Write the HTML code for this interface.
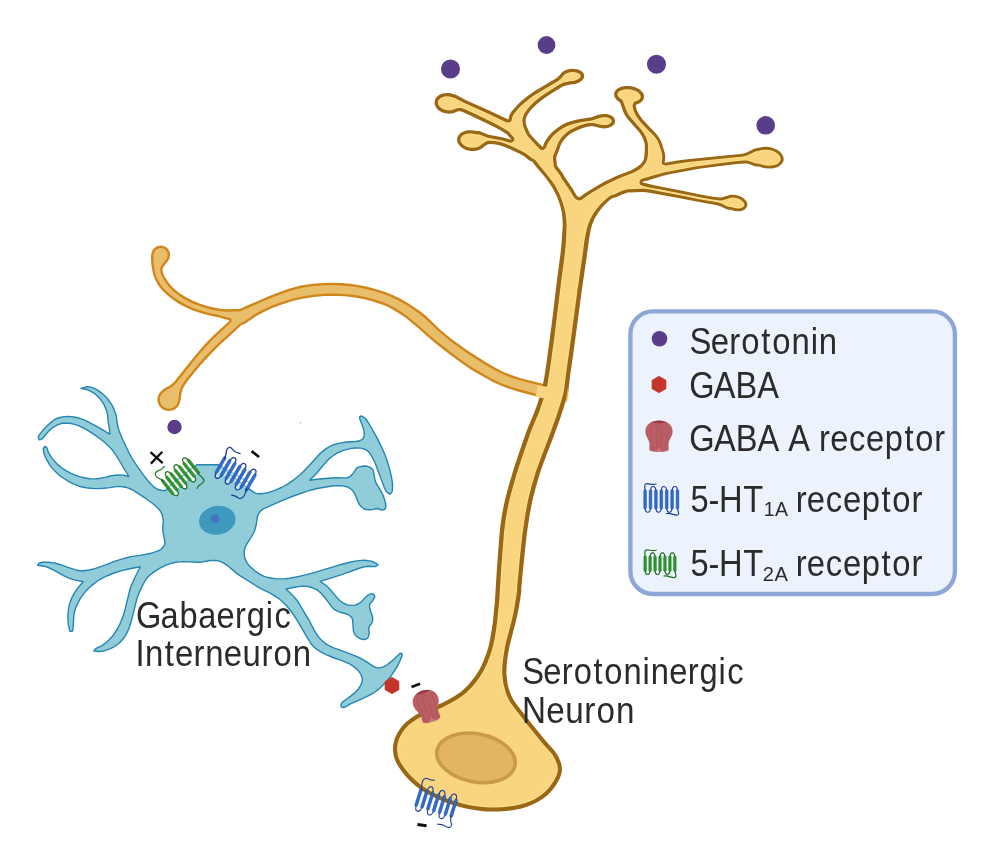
<!DOCTYPE html>
<html lang="en"><head><meta charset="utf-8"><title>Serotonin and GABA neuron diagram</title>
<style>html,body{margin:0;padding:0;background:#fff}body{width:986px;height:844px;overflow:hidden}svg{display:block}</style>
</head><body>
<svg width="986" height="844" viewBox="0 0 986 844" role="img" aria-label="Serotoninergic neuron and GABAergic interneuron diagram">
<defs><filter id="gAA" filterUnits="userSpaceOnUse" x="0" y="0" width="986" height="844" color-interpolation-filters="sRGB"><feOffset dx="0" dy="0"/></filter></defs>
<rect width="986" height="844" fill="#fff"/>
<path d="M151,256.3 151,261.7 151.6,266.3 152.9,273.6 153.8,276.5 154.7,278.7 157.4,283.9 160.2,288 163.9,292 169.1,296.7 174.4,300.7 179.4,303.9 185,306.9 192.2,310.2 198,312.3 203.8,314 209.4,315.4 219.5,317.6 225,319.3 229,320 229.3,320.5 229.2,320.9 226.8,323.2 211.6,337.2 204.6,344.6 194.4,356.5 174.2,381.7 172,383.7 169.8,385.4 164.6,388.3 163,389.5 160.8,391.5 159.3,393.2 158.3,395.2 157.6,397.4 157.5,400.7 157.9,402.9 159.3,406 160.8,407.7 162.5,409.2 165.6,410.6 168.9,411.1 172.2,410.6 175.3,409.2 177.8,406.9 179,405 180.2,401.8 181,398.1 181.4,393.7 182.7,389 184.8,385.1 188.8,379.4 201.1,364.6 212.6,352.2 219.5,345.3 233.5,332.6 241.7,324.8 243.3,324.5 244.9,323.8 256.4,315.9 261.8,312.9 272.4,308 281.1,304.7 292.7,301.1 301.3,299 313.7,297 324.6,296.1 331.4,295.9 340.4,296.1 347.6,296.5 354.6,297.4 363.2,298.9 370.3,300.7 377.5,302.9 384.6,305.4 388.7,307.3 394.3,310.4 399.9,313.9 405.6,317.8 416.9,327 429,337.8 436.6,344.2 449.8,354.5 462.1,363.6 469.3,368.4 475.5,372.2 491.1,381 496,383.5 500.7,385.6 506.8,387.9 512.9,390 517.9,391.4 547.6,399.4 549,399.5 550.4,399.4 552.3,398.7 553.4,397.9 554.4,396.9 555.2,395.8 555.7,394.5 556,393.2 556,391.8 555.5,389.8 554.8,388.6 553.9,387.5 552.9,386.7 551.7,386 519.9,377.9 511.4,375.1 505.9,373 500.4,370.4 494.5,367.3 485.5,362.1 478.4,357.6 467.9,350.7 459.8,345.1 452.5,339.7 446.6,334.9 439.5,328.9 426.1,316.1 421.4,312.3 416.5,308.7 407,302.6 399.1,298.1 392.6,294.9 384.6,291.8 375.3,288.9 367.5,286.8 358.2,285 350.5,283.8 341.1,283 331.4,282.8 323.9,282.9 314.6,283.6 307.4,284.5 300.7,285.6 295.1,286.9 288.9,288.8 278.4,292.5 269.2,296.1 245,306.5 239.9,308.9 235.1,308.9 227.9,309.3 223,309 218.8,308.5 211.3,307.1 204.8,305.3 198.2,303 191.7,300.2 185.2,296.8 179.7,293.3 175,289.6 170.8,285.4 167.6,281.2 164.5,276.2 163.2,273.3 162.6,270.2 162.6,268.7 162.8,267.8 168,261.1 169.4,258.5 169.9,256.7 170.1,254 169.4,251.3 168.5,249.7 166.7,247.6 164.3,246.2 161.6,245.5 158.9,245.7 156.3,246.6 154.1,248.2 152.4,250.5 151.9,251.7 151.3,253.7Z" fill="#d0861b"/>
<path d="M153.3,258.8 153.7,263.7 155,272.2 156,275.7 157.8,279.7 160.7,284.6 163.3,288 167.1,291.7 172.6,296.4 177,299.5 181.9,302.6 187.5,305.5 193.1,308 198.8,310 207.2,312.4 218.9,315 225.7,317 229.8,317.8 230.5,318.1 231.2,318.8 231.6,319.5 231.7,320.4 231.6,321.5 230.9,322.5 213.4,338.8 205.1,347.6 196.2,358 180.9,377.3 175.9,383.4 173.6,385.5 171.1,387.4 166.7,389.9 164.7,391.2 161.9,393.8 160.5,396.1 160,397.8 159.8,400.5 160.2,402.2 161.3,404.7 162.5,406 164.6,407.6 166.3,408.3 168.9,408.7 171.5,408.3 174,407.2 175.9,405.4 177.3,403.1 178,401 178.6,397.9 179,393.3 179.7,390.4 180.5,388.1 182.7,383.8 186.9,377.9 199.3,363 210.8,350.6 217.9,343.6 230.4,332.2 240.3,322.9 243.6,321.7 255,313.9 260.8,310.7 271.4,305.8 281.8,301.9 293.4,298.4 302.8,296.2 315.7,294.4 326.8,293.6 336,293.5 344.7,293.9 350.8,294.4 357.8,295.5 365.2,296.9 372.4,298.8 379.8,301.1 386.9,303.8 391.2,305.9 396.9,309.1 402.6,312.8 407,315.9 418.4,325.2 430.5,336 436.6,341.1 447.4,349.6 461.5,360.2 467.4,364.3 473.6,368.3 489,377.2 495.3,380.5 500,382.7 510.6,386.7 518.5,389.1 547.7,396.9 549.5,397.1 551.2,396.6 552.6,395.4 553.4,393.8 553.6,392 553.1,390.3 552.3,389.2 550.8,388.3 520.8,380.6 512,377.9 506.4,375.8 500.8,373.3 494.8,370.2 487.2,365.9 480,361.5 470.6,355.4 460.5,348.5 452.6,342.8 445.1,336.8 438,330.7 424.5,317.9 419.9,314.2 415.1,310.7 405.8,304.6 398,300.2 390.2,296.5 382.4,293.6 374.7,291.2 367,289.2 357.8,287.3 350.2,286.2 341,285.4 331.4,285.2 324,285.3 314.7,286 307.8,286.8 301.2,288 295.7,289.2 289.6,291.1 279.3,294.7 270.1,298.3 240.4,311.2 227.9,311.7 222.8,311.4 218.4,310.9 210.7,309.4 204.1,307.6 197.3,305.3 190.6,302.4 184,298.9 178.3,295.2 173.4,291.4 169,287 165.6,282.5 162.4,277.3 160.9,274 160.2,270.5 160.2,268.3 160.7,266.7 162.9,263.6 166,259.8 167.2,257.6 167.6,256.3 167.7,254.2 167.2,252.2 166.5,251 165.1,249.5 163.4,248.4 162.1,248 160.7,247.9 159.3,248 158,248.4 156.3,249.5 154.9,251 154,252.9 153.5,255.3Z" fill="#e9be6b"/>
<path d="M393,749 393.1,751.1 393.6,755 394.6,759 396.3,762.9 398.5,766.8 402.5,772.5 406.2,776.9 410.4,781.3 415.1,785.5 420,789.3 422.8,791.2 428.8,794.8 435.3,798.1 441.8,801 448.1,803.5 454.3,805.5 463.7,808 470,809.3 479.2,810.7 485.5,811.4 491.8,811.6 498.7,811.5 506.4,810.9 514.2,810 521.5,808.5 527.8,806.6 533.2,804.3 538.2,801.7 542.8,798.8 546.8,795.7 550.2,792.5 553.2,789 555.9,785.3 557.9,781.9 559.7,778.4 561.1,774.8 561.8,771.4 562,769.4 561.7,765.9 561.3,764 560,760.3 557.5,755 555,751.3 545,740 532.4,724.4 517.5,705.5 514.2,700.9 512.8,698.5 511.5,696 509.5,691 508.7,688.4 507.5,683.2 506.5,675 506.4,672 506.6,665.8 507.7,656.3 509.3,646.9 516.5,618.8 518.5,609.4 520.5,597.2 521.4,590.7 521.2,589.6 522.5,575 524.7,553.1 526.7,534.4 529.5,515.7 532.5,500 536,486.4 540,473 543.1,464.1 554.2,435 560.5,417.4 565.6,401.5 567.8,393 568.6,388.6 570.2,375 574,348.5 581.5,292.5 587.2,253 589,239.5 590.7,229.8 592.2,224.5 594.8,218.2 598.3,212.4 602.4,207.2 605.2,204.2 608.3,201.3 610.4,199.5 612.8,198 615.5,197.4 622.1,194.4 628.5,192.3 630.1,192.5 642.3,192 645.9,192.3 652.5,193.3 677.1,197.7 699.3,202.1 715.9,204.9 720.4,206.2 723.5,207.8 727.3,209.5 728.9,209.8 730.5,209.8 734.5,211 736.9,211.3 739.2,211.3 741.3,210.9 742.9,210.4 745.2,209 746.1,208.1 746.8,207.1 747.4,205.1 747.3,203.9 747.1,202.7 745.7,200.4 743.6,198.2 741.1,196.7 737.8,195.4 734.3,194.7 730.8,194.8 728.8,195.2 721.3,197.6 719.2,197.5 712.9,196.7 698.9,194.3 682.4,190.8 654,185.2 646.1,183.2 642.9,182.6 642.7,182.4 642.7,181.8 643,181.6 647.8,180.5 662.1,175.9 669.3,174.3 699.2,168.8 714.3,166.7 737,164.1 744.5,163.4 746.7,163.4 748.8,164 754.9,166.3 756.7,166.6 759.2,166.5 761.9,167.5 765,168.3 769.8,168.6 772.1,168.5 774.4,168.1 777.8,166.9 780.6,165.1 782.5,163 783.2,161.6 783.6,160.5 783.7,158.9 783.5,157.4 782.4,154.7 780.4,152.2 777.7,150.1 774.2,148.4 770.4,147.3 766.4,146.8 762.5,146.9 760.2,147.4 757.6,148.1 754.7,148.6 746.1,152.7 743.7,153.4 740.9,153.9 724.7,155.4 687.6,159.3 677.4,160.6 664.8,162.7 664.6,162.3 665.1,159.6 665.2,157.5 665.2,155.6 664.7,152.8 662.3,144.8 661.4,142.2 659.9,139.1 657.7,135.7 655.7,133.3 649.7,127.1 642.2,119 638.6,113.7 637.4,111.2 636.4,108.7 635.9,106.4 635.8,104.7 638.7,103.7 640.8,102.5 642.4,101 643.5,99.3 644,98 644.1,96.3 643.8,94.8 643.2,93.3 641.5,91.2 639.6,89.6 637.3,88.2 634.7,87.1 631.2,86.2 628.2,85.9 625.3,85.9 622.5,86.4 620.6,86.9 618.4,87.9 616.9,88.9 615.8,90 614.9,91.2 614.2,92.9 614.1,94.4 614.4,96.2 615,97.7 616.3,99.4 618,101 620,102.4 621.4,106.6 623.4,112.1 624.8,114.9 626.1,117 628.4,120.1 639.3,132.3 641.1,135 643.1,139 644.5,143.1 644.9,146.2 644.6,154.3 644.1,157.7 643.6,159.7 642,162.4 640.3,164.4 638.2,166.1 635.7,167.7 630.8,170.4 617.4,175.4 604.2,181.8 598.1,185.2 589.4,190.4 585,193.3 579.5,197.3 577.7,196.6 576.5,195.3 572.6,188.5 564.1,176.3 563.6,174.8 562.9,173.5 557,165.8 556.3,159.3 556.3,156.9 558.5,151.6 560.9,144.7 562.4,142 564.3,139.4 566.3,137.2 569,134.8 571.5,133 574.3,131.5 582.1,128.2 586.9,126.8 591.1,126.2 593.1,126.2 599.3,127.8 604.1,128.4 607.6,128.1 610.8,127 612.3,126 613.4,125.1 614.3,123.9 614.8,122.8 615.1,121.5 615,120.3 614.7,119 614.1,117.9 613.1,116.8 612.1,116 609.5,114.7 606.2,113.9 603.1,113.9 598.6,114.7 591.4,117.3 581.3,118.7 576.1,119.8 570.8,121.2 566.7,122.6 562.8,124.5 558.4,127.2 554.3,130.3 551.1,133.3 548.3,136.6 545.8,140.1 544.2,142.9 542.8,146.9 542.5,147.1 536.2,140.7 529.9,133.8 526.4,125.7 525.9,123.1 525.7,120.3 526,118.1 527.1,115.5 528.6,113.1 531.1,109.8 533.3,107.4 536.7,104.2 540.9,100.8 544.6,98 551.3,93.5 562.8,86.4 566,85.4 570.4,84.4 573.1,84.3 576.1,83.7 579.2,82.5 581.7,80.7 582.8,79.6 583.6,78.2 584.1,77 584.2,75.8 583.9,74.4 583.4,73.3 582.4,72 581.3,71.1 579.1,69.9 577.1,69.2 574.8,68.9 572.3,68.8 569.9,69 567.5,69.5 565.4,70.3 563,71.5 561.2,73.2 559.9,75 556.7,78 534.3,91.3 528,95.7 522.3,100.2 517.6,104.7 511.5,111.5 509.6,114.8 509,116.7 508.6,119.3 508.3,119.6 489.1,110.4 466.1,100.2 456.8,95.2 455.1,94.5 449.4,93.1 446.8,92.9 444.2,93.2 441.7,93.8 439.1,95 437.2,96.5 435.9,98.1 435,99.9 434.6,101.9 434.6,103.5 435.1,105.5 436.1,107.4 437.5,109.2 438.9,110.4 441,111.7 443.3,112.7 445.2,113.3 449.2,113.7 453.1,113.2 458.1,111.3 460.1,111.2 461.6,111.6 471.5,116 494.4,127.1 501.2,130.7 507,134.4 508.1,136 511.2,139.2 511.2,139.7 510.9,139.7 506.1,138.2 502.1,137.2 488.6,134.7 479.4,131.1 477.6,131 476.2,131 473.7,130.4 471.6,130.2 468,130.2 465.4,130.7 463.5,131.4 461.4,132.5 459.9,133.6 458.5,135.2 457.7,136.7 457.1,138.6 457.1,140.6 457.5,142.2 458.4,144.1 459.5,145.6 461.3,147.3 463.5,148.7 465.9,149.9 468,150.5 470.7,151 475,151 478.9,150.1 481.6,148.7 485.4,145.7 487.4,144.6 488.4,144.2 490.4,144 493.8,144.3 497.4,144.8 501.1,145.7 506.7,147.8 514.9,151.4 520.8,154.3 524.1,156.2 529.4,160.4 530.6,161 532.1,161.5 536.6,167.2 544.1,176.1 548.8,182.2 552.6,188.1 556.6,195.7 557.9,198.8 559.5,203.4 560.8,208 561.8,212.6 562.6,220.3 562.7,224.8 562.5,229.3 561.5,243.8 560.6,253 557,280 552,322 546.9,360.3 544.4,377.1 542.8,385.3 540.1,395.6 536.9,405.5 533.9,413.5 528.1,427.3 526.1,432.5 521.7,444.9 514.3,467.1 509.5,483 506.7,493.2 504.3,503.1 502.4,512.5 500.5,525 499.5,534.4 496.9,568.7 495,600 492.9,621.9 491.5,631.3 489.8,640.8 488.4,647 486.6,652.9 484.5,658.6 482.2,664.1 479.5,669.4 478,672 474.7,676.9 471.1,681.6 467.2,686 463,690 460.7,691.9 455.9,695.2 450.9,698.3 443,702.5 437.3,705.1 425.5,709.8 420,712.5 415.3,715.3 410.8,718.2 406.7,721.4 404.7,723.2 403,725 400.1,728.7 397.5,732.7 395.5,736.8 394.6,739 393.6,742.9 393.2,745Z" fill="#9a6715"/>
<path d="M560.4,196.2 562.1,200.7 564,206.7 565.1,211.3 565.9,216 566.4,220.6 566.6,225.4 566.1,239.1 565.4,248.2 564.4,257.2 561.2,281 554.7,334.6 550.4,365.9 547.5,383.9 545.8,391.4 544.1,397.4 539.2,411.8 532.2,428.6 530.1,434 520.4,462.3 516.8,473.6 512.6,487.9 509.9,497.9 508,506.5 505.6,519.6 504,532.7 501.3,567 499.3,600 497.1,622.6 495.8,631.6 494.5,639.2 493.2,645.2 491.6,651.2 489.6,657.1 487.3,662.9 483.2,671.4 479.9,676.8 477.1,680.7 474.2,684.4 470,689.1 466.5,692.4 462.8,695.4 458.9,698.2 453.5,701.5 445.5,705.8 441.2,707.9 424.7,714.7 417.2,718.9 411.4,722.9 409.2,724.6 406.3,727.4 404.6,729.5 402.2,732.8 400.2,736.4 399.1,738.8 397.9,742.5 397.4,745 397.1,749 397.6,754.2 398.6,757.9 400.8,762.7 404.7,768.5 409.1,774.1 415.2,780.1 420.7,784.7 427.8,789.5 434.1,792.9 440.7,796 448.8,799.3 455.6,801.6 464.1,803.9 471.2,805.4 479.9,806.7 485.7,807.3 492.8,807.5 501.6,807.2 508.8,806.5 514.5,805.7 520.2,804.6 525.5,803 530.8,800.9 535.8,798.4 540.5,795.4 543.8,792.9 547.8,789.1 551.2,784.8 554.2,780.2 556.6,775.3 557.6,771.7 557.9,768.3 557.2,764.6 555.3,759.7 552.7,755 550.2,751.9 542.1,742.9 526.9,724.2 513,706.3 510.2,702.3 508.6,699.4 506.6,694.9 505.5,691.8 503.5,684.1 502.8,679.4 502.3,674.6 502.2,671.4 502.3,666.7 503.1,658.9 505,646.8 506.4,640.7 509.9,627.7 512.4,617.6 514.2,609 516.3,595.8 517.1,590.4 517,588.6 519.8,558.7 522.5,533.3 525.2,515.3 526.8,506.3 528.3,498.9 531.7,485.6 536.1,471 539.2,462.4 550.3,432.9 556.4,416.1 561.4,400.6 563.6,392.2 564.3,388 565.9,374.7 569.7,347.9 577.3,291.4 582.9,252.8 584.6,239.4 585.8,233.4 587.2,227.3 588.2,224.2 590,219.7 593,214 596.7,208.7 600.8,203.9 606.6,198.4 609.1,196.4 611.1,195.2 614.1,194.4 622.2,190.8 627.4,189.2 641.2,188.7 644.5,188.8 650.6,189.6 660,191.6 680.1,195.3 699.2,199.2 717.1,202.2 721.8,203.6 724.7,205.2 728.3,206.8 731,206.9 735.3,208.2 739,208.4 741.3,207.9 743.1,207 743.8,206.4 744.4,205.1 744.3,203.6 743.3,201.9 741.6,200.4 739.5,199.1 737.2,198.2 733.4,197.6 731,197.7 722.8,200.2 720.3,200.5 714.1,199.8 703.7,198.1 659.8,189.3 650.4,187.7 643.4,186 641.1,185.2 640.1,184.4 639.5,183 639.5,181.4 640.2,180 642.4,178.4 645.7,177.7 651.2,175.9 663,172.7 669.1,171.4 695.7,166.4 719.6,163.2 737.5,161.1 745.3,160.5 746.9,160.5 748.9,161 756,163.5 760.2,163.9 763.3,164.9 765.9,165.5 768.5,165.7 771.2,165.6 774.9,164.9 777.2,163.9 778.2,163.3 779,162.6 780.3,161 780.6,160.2 780.7,158.4 780.1,156.5 778.8,154.7 777,153.2 774.8,151.8 772.4,150.8 769.9,150.1 767.3,149.8 764.6,149.7 762,149.9 755.3,151.5 747,155.4 743.9,156.3 740.8,156.8 725.7,158.2 688.4,162.1 678.1,163.5 666.4,165.4 665.3,165.4 663.4,165 662.2,164 661.7,162.8 662.3,157.8 662.2,155.3 661.7,152.6 659.6,145.7 657.5,140.8 656.1,138.6 653.6,135.5 648,130.1 641.8,123.6 639.6,121 636.9,117.2 635.3,114.4 633.3,109.7 632.5,105.6 633.3,103 634.3,101.8 637.6,100.5 638.6,100 640,98.7 640.5,98 640.8,96.7 640.4,95.2 639.9,94.4 638.4,92.8 636.5,91.5 634.2,90.4 631.8,89.7 629.2,89.3 626.6,89.2 624.1,89.4 620.7,90.4 618.9,91.6 617.8,92.9 617.4,94.2 617.5,95 618.2,96.5 618.9,97.3 620.6,98.8 622,99.7 622.8,100.7 626,109.6 627.1,112.1 628.3,114.4 631.7,118.8 641.8,130.2 644.4,134.3 646,137.3 647.6,141.9 648.1,145.6 648,153.6 647.4,158.3 646.8,160.5 646,162.4 645.2,163.6 642.8,166.6 640.1,168.9 634.8,172.1 631.6,173.6 619.1,178.3 607.1,184 600.7,187.5 591.7,192.8 586.9,196 581.8,199.8 580.6,200.2 579.3,200.4 578,200.3 575.5,199.1 573.7,197 570,190.7 561.4,178.2 560.2,175.5 555,168.7 553.8,166.3 553,159.5 553,157.4 553.2,155.8 555.7,149.8 557.7,143.8 558.5,142.2 560.2,139.3 562.2,136.8 564.4,134.4 566.9,132.2 569.6,130.3 574.1,127.9 578.4,126.1 582.8,124.5 586,123.6 589.4,123 593.3,122.9 600.4,124.7 604.4,125.1 606.8,124.9 608.9,124.2 609.8,123.8 611.2,122.6 611.7,121.4 611.6,120.3 611.2,119.7 609.9,118.5 607.9,117.6 605.7,117.2 603.3,117.2 599.4,117.9 592,120.5 581.7,122 576.1,123.2 570.6,124.8 566.7,126.3 563,128.2 559.5,130.5 557.3,132.2 554.1,134.9 551.4,138 548.9,141.4 547.5,143.6 546.1,147.4 545.5,148.4 543.8,149.7 542.2,150.2 541,150 539.9,149.3 533.5,142.6 527.2,135.6 524.4,129.6 523.3,126.5 522.6,123 522.4,120.9 522.5,118.8 523,116.9 524.2,113.9 526.1,110.9 528.1,108.2 530.3,105.8 533.6,102.6 537.1,99.5 540.9,96.6 547.2,92.3 559.9,84.2 561.5,83.4 563.5,82.6 566.6,81.9 569.5,81.3 572.8,81 575.2,80.5 578.5,79.1 580,77.8 580.8,76.5 580.7,75.4 580.5,74.9 579.2,73.7 577.3,72.8 573.8,72.1 570.1,72.3 566.6,73.3 564.6,74.5 563.9,75.1 562.1,77.5 559.8,79.7 558.2,81 540,91.7 533.8,95.6 529.1,99 524.6,102.7 521.4,105.6 518.4,108.6 514.6,112.9 513.2,114.9 512.3,117.1 511.8,119.9 511.3,121 510.3,121.9 509.1,122.3 507.4,122.6 506.1,122.3 488.5,113.8 463.9,102.8 454.8,97.9 449.6,96.5 446,96.3 443.7,96.7 441.5,97.5 439.7,98.7 439.1,99.4 438.5,100.2 437.9,101.8 438,103.6 438.3,104.5 439.3,106.2 440.1,107 440.9,107.8 442.9,109 445.1,109.8 448.7,110.4 452.3,110 456.1,108.5 458.8,107.9 461,108 464.4,109.1 479.5,116.1 495.8,124.1 502.5,127.7 507.8,130.9 509.5,132.3 510.6,133.8 513.8,137.2 514.4,138.4 514.4,139.7 514.2,140.3 513.5,141.4 511.6,142.6 510,142.8 502.4,140.6 487.7,137.8 479.2,134.5 475.5,134.2 472.3,133.5 468.6,133.5 465.1,134.3 463.1,135.3 461.5,136.7 460.6,138.2 460.4,139.9 460.8,141.7 462,143.4 463.6,144.9 465.7,146.2 469.2,147.4 472.9,147.8 475.3,147.6 477.7,147 479.7,146 483.2,143.3 486.6,141.3 488.8,140.8 493.9,140.9 500.1,142 504.9,143.5 514.7,147.7 522.9,151.7 526,153.5 531.5,157.8 534.2,159.2 535.2,160 539.7,165.8 546.5,173.9 552.1,181.2 554.7,185.1 557,189.2Z" fill="#fddf8c"/>
<path d="M441.6,708.9 427.7,714.5 422.7,716.9 414.3,722.2 409,726.4 407.1,728.2 404.6,731.2 403.1,733.4 401.2,736.9 399.3,741.6 398.7,744 398.3,746.4 398.2,749 398.3,751.5 398.7,754 399.2,756.4 400.1,758.7 401.1,761 404.7,766.7 409.9,773.3 415.9,779.3 422.5,784.7 428.3,788.5 437.2,793.2 446.5,797.3 454.6,800.2 462.9,802.5 472.9,804.5 482.9,805.9 491.4,806.4 501.5,806.1 510.1,805.3 515.8,804.4 519.9,803.5 526.5,801.5 532.8,798.7 536.5,796.7 539.9,794.5 544.1,791.2 546,789.3 548.7,786.3 550.4,784.2 552.6,780.8 555.5,774.9 556.3,772.6 556.7,770.4 556.8,768.3 556.4,766.1 555.8,763.8 554.8,761.4 553.1,757.8 551.1,754.7 541.3,743.7 528.9,728.4 513,708.2 510.3,704.4 508.4,701.3 506.8,698.3 505,693.8 503.5,689.1 502.4,684.3 501.7,679.6 501.2,674.7 501.1,671.4 501.2,666.6 502,658.7 503.9,646.6 505.3,640.5 508.8,627.4 511.3,617.4 513.1,608.8 515.2,595.6 516,590.4 515.9,588.5 518.7,558.6 521.5,533.2 524.1,515.1 525.7,506.1 527.3,498.6 530.7,485.3 535.1,470.7 538.1,462 549.3,432.5 555.4,415.7 560.4,400.3 562.5,392 563.2,387.9 564.8,374.5 568.6,347.8 576.2,291.3 581.8,252.7 583.5,239.3 585.4,230.2 587.1,223.9 589,219.3 591.2,214.9 593,212 595.8,208.1 598.9,204.4 603.4,199.7 607.1,196.6 610,194.6 611.1,194.1 613.7,193.3 620.5,190.3 626.7,188.2 641.1,187.6 647.3,188.1 642.5,186.9 640.7,186.2 639.6,185.4 638.7,184.1 638.4,183.2 638.3,182 638.8,180.2 639.8,178.9 642,177.4 645.5,176.6 651,174.9 664.3,171.2 692.5,165.9 712,163 737.4,160 745,159.4 747,159.5 749.5,160 756.2,162.5 760.4,162.8 764.8,164.2 768.6,164.6 772.3,164.4 774.6,163.8 776.7,163 778.3,161.8 778.9,161.2 779.6,159.9 779.7,158.6 779.5,157.8 778.7,156.3 777.2,154.7 775.4,153.4 773.2,152.3 769.7,151.2 765.9,150.8 763.4,150.9 755.6,152.5 747.4,156.5 744.2,157.3 740.9,157.9 725.8,159.3 688.5,163.2 678.3,164.5 666.5,166.5 665.1,166.5 663.1,166 661.6,165 660.7,163.3 660.6,162.1 661.2,157.8 660.9,154.2 658.6,146.1 656.5,141.3 655.2,139.2 652.8,136.2 647.2,130.9 641,124.3 638.7,121.7 636,117.8 634.3,114.9 632.3,110.1 631.7,107.9 631.4,105.6 631.6,104.3 632.3,102.4 633,101.5 634.1,100.7 637.1,99.5 638.7,98.5 639.2,98 639.6,97.1 639.4,95.7 638.4,94.3 636.9,93 634.9,91.9 632.7,91.1 630.3,90.5 627.9,90.3 625.5,90.3 623.2,90.7 621.1,91.4 620.3,91.9 619.1,92.9 618.5,94.2 618.8,95.3 620.4,97.3 622.6,98.8 623.6,99.8 624.1,100.9 627.5,110.5 629.3,113.8 632.5,118.1 642.7,129.6 645.5,133.9 647,136.8 648.2,139.9 649.1,143.9 649.2,148.9 649.1,153.5 648.8,156.8 647.8,160.9 647,162.8 646.1,164.2 643.8,167.1 640.9,169.6 637.9,171.5 635.1,173.2 632.2,174.5 620.8,178.8 607.6,185 601.2,188.5 592.3,193.8 587.5,196.9 582.4,200.8 580.9,201.3 578.5,201.5 577,201.1 575,200.1 573.1,198.1 569.1,191.3 560.5,178.8 559.3,176 553.7,168.7 553,167.2 552.6,165.8 552,159.8 551.9,157.3 552.3,155 554.2,150.6 556.5,143.7 557.3,142 560.2,137.5 563.6,133.7 567.8,130.2 572.2,127.6 575.1,126.3 580.9,124 587,122.3 579.1,123.6 572.2,125.4 567.2,127.3 562.4,129.8 560.1,131.4 556.9,133.9 554.9,135.7 552.2,138.7 549.1,143.1 548,145.2 546.9,148.3 546.2,149.3 544,150.9 543.1,151.2 541.9,151.3 540.2,150.9 539.1,150.1 532.7,143.3 526.3,136.3 523.4,130 522.2,126.8 521.5,123.2 521.3,120.9 521.4,118.7 521.9,116.5 523.3,113.4 525.2,110.3 527.3,107.5 530.5,104 537.7,97.7 541.5,94.8 547.8,90.5 559.4,83.3 561,82.4 564.9,81.1 569.4,80.2 573.8,79.7 577,78.7 578.6,77.6 579.7,76.2 579.5,75.5 578.6,74.6 575.9,73.5 573.7,73.2 570.3,73.4 567,74.3 564.6,75.9 562.9,78.3 560.6,80.5 558.8,81.9 540.6,92.6 533.3,97.4 528.6,100.8 525.3,103.5 522.2,106.3 519.2,109.4 515.4,113.6 514.2,115.5 513.4,117.4 512.7,120.6 512.2,121.7 510.9,122.8 509.3,123.4 507.3,123.7 505.6,123.3 488.1,114.8 463.4,103.8 454.4,98.9 449.4,97.6 447.2,97.3 445,97.5 442,98.4 440.5,99.5 439.5,100.7 439.2,101.3 439,102.7 439.3,104.1 439.7,104.8 441.6,106.9 443.4,108 445.4,108.8 448.8,109.3 452,108.9 455.7,107.4 458.1,106.9 460.5,106.9 463.4,107.5 474.6,112.5 497.6,123.8 505.7,128.3 508.3,130 510.3,131.5 511.4,133.1 514.3,136 515.1,137.2 515.5,139 515.2,140.7 514.1,142.3 512.7,143.3 511.5,143.8 509.5,143.9 506.4,142.9 516.5,147.3 523.6,150.8 526.7,152.6 532,156.8 533.6,157.5 535.4,158.7 549.3,175.6 553,180.5 555.6,184.6 558.7,190.1 561.4,195.7 563.2,200.3 565.1,206.4 566.2,211.1 567,215.9 567.6,222.2 567.7,227 567.1,240.7 565.5,257.3 562.3,281.1 557.9,318.4 553.8,349.7 550.1,375 548.3,385.6 546,394.8 542.8,405 539.6,413.7 533.2,429 531.1,434.4 526.7,447 519.2,469.7 514.9,483.9 511.7,495.3 509.7,503.9 507.7,514 505.9,525.6 504.8,535.8 502.2,570.1 500.6,597.1 498.9,616.7 497.8,625.9 496.4,634.8 495,642.4 493.5,648.5 491.7,654.5 489.5,660.4 485.7,669.1 482.6,674.7 479.9,678.8 477.1,682.6 473,687.5 469.6,691 466.1,694.2 462.2,697.3 458.2,700 452.7,703.2 445.9,706.8ZM491.5,139.7 487,138.8 478.9,135.6 475.3,135.3 472.2,134.6 469.8,134.5 466.5,135 463.7,136.2 463,136.8 461.9,138 461.7,138.6 461.5,139.8 461.9,141.2 462.8,142.7 465.2,144.6 468.3,146 470.5,146.5 472.9,146.7 476.3,146.3 478.3,145.6 480,144.5 483.8,141.5 486.1,140.3 488.7,139.7ZM590.8,121.8 593.5,121.9 600.5,123.6 603.4,123.9 605.5,124 607.5,123.6 609.2,122.8 610.3,121.9 610.6,121 609.9,119.9 608.5,119 606.6,118.4 604.5,118.2 599.6,119 592.9,121.4ZM659.6,190.4 659.6,190.4 659.6,190.4ZM659.7,190.4 660.3,190.5 663.3,191.1 662.2,190.9ZM718.3,201.4 722.2,202.6 725.2,204.2 728.6,205.7 731.2,205.9 735.5,207.1 738.9,207.3 740.9,206.8 742.5,206.1 742.9,205.7 743.3,204.9 743.2,204 742.9,203.3 741.8,201.9 741,201.3 738,199.7 734.6,198.8 732.3,198.7 730.1,199 722.5,201.4 720.3,201.6Z" fill="#fad57f"/>
<rect x="566.6" y="388.5" width="1.6" height="13" fill="#f2b13c" opacity="0.85" transform="rotate(8 567 395)"/>
<rect x="536.5" y="386" width="11.5" height="12" fill="#fad57f" transform="rotate(12 542 391.5)"/>
<ellipse cx="476" cy="757.9" rx="39.7" ry="24.1" fill="#e4b561" stroke="#c99a47" stroke-width="3.6" transform="rotate(11 476 757.9)"/>
<path d="M196.9,464.8 164.8,490.9 158.8,489.8 157.7,489.3 155.3,487.9 152.9,486 150.6,483.8 147.9,480.7 145.2,477.3 137.8,467.2 134.8,462.7 131.8,457.9 129,452.8 123.1,440.6 119.5,432 118.2,427.9 117.3,424 116.4,416.8 115.7,414 113.6,408.3 112.3,405.6 110.7,403.1 108.1,399.5 106.2,397.3 103.1,394.3 99.7,391.6 97.2,389.9 94.7,388.5 92.3,387.6 89.8,386.9 87.4,386.7 86.3,386.8 81,388.3 87.4,389.8 90.5,391.1 93.5,392.8 95.6,394.4 98.7,397.3 101.4,400.6 103.1,403 104.5,405.6 105.7,408.4 106.8,411.3 107.5,414.2 108.1,421.5 109.4,428.8 110,434.3 104.5,430.8 98.5,427.3 85.4,420.4 80.5,418.6 75.6,417.3 70.7,416.6 67.4,416.4 64.2,416.6 59.8,417.5 56.9,418.5 54.3,419.8 50.6,422.6 47.2,425.7 44.1,429 39.8,434.1 38.6,436 38.3,436.8 38.4,437.8 39.2,439.8 41.2,439.4 42.3,438.7 45.9,434.3 49.8,430.1 52,428.2 54.3,426.6 58,424.7 60.5,423.8 62.9,423.3 66.6,423.1 69.4,423.3 72.3,423.8 75.2,424.6 78.4,425.7 81.7,427.2 86.6,429.7 94.7,434.9 99.7,438.5 104.5,442.3 109,446.4 113,450.8 115.2,454 128.9,476.5 122.9,475.1 120.2,474.9 117.4,475 111.4,475.8 104.9,477.4 100,478.3 96.8,478.7 93.5,478.9 90.2,478.7 85.3,478 82.1,477.3 77.2,475.8 71,473.3 66.8,471.2 62.8,468.7 58.1,464.9 54.8,461.6 52,458.1 49.9,455 48.3,452 46.9,447.7 46.3,447 44.9,446.5 43.8,447.7 43.4,448.4 43.4,450.6 44.3,454.5 46.5,459.4 49.3,464.3 52,467.9 55.3,471.6 59.3,475.2 63.1,478 69.4,481.9 73.2,483.9 78.4,485.9 82,487 86.2,487.8 90.6,488.3 95,488.6 99.4,488.5 103.7,488.2 110,487.6 116.1,486.6 120,486.4 125.1,487.2 128.4,488.2 131.6,489.5 134.6,491.2 146.8,499.2 152.3,503.2 155.9,506.3 159.7,510.2 161.2,512.4 162.2,514.8 163,518.7 163.3,521.5 162.7,529.1 163.1,532.2 164.8,541.4 164.9,543.4 164.3,545.3 163.7,546.3 162.2,548.1 160.4,549.7 159.3,550.4 156.9,551.4 151.2,553.2 147.7,554 140.1,555.4 131.1,556.6 126.6,557.7 115.2,561.2 105,565.1 94.9,568.6 89.1,570 83.7,570.8 80.2,570.8 76.6,570.2 67.8,567.4 60.7,564.7 55.4,563.3 51.8,562.6 48.3,562.3 43.1,562.3 40.1,562.8 39.1,563.2 38.4,563.8 37.6,565.3 43.9,566.2 48.2,567.5 54.3,570.3 63.5,575.6 69.5,578.3 74.3,579.9 83.2,581.7 78,587.7 74.6,592.6 71.8,597.8 69.7,603.5 68.4,609.6 68,613.7 67.9,617.4 68.3,624.3 69.9,631.2 72,631.4 72.3,631.2 72.7,630.6 73.1,628.4 73.8,615.5 74.5,611.9 75.6,608.3 77.1,604.7 78.8,601.2 81,597.6 83.4,594.1 86.3,590.6 91.6,585.6 97.5,581 102,578.4 106.7,576 114,573 121.7,570.6 129.6,568.7 140.3,566.8 135,577.2 131.1,586 129.8,589.8 125.4,608.2 123.7,614.2 120.7,622.3 117.6,628.5 113.6,634.7 112.2,636.5 109.3,639.6 106.2,642.5 103,644.9 101.5,645.8 95.6,648.7 94.5,649.7 93.9,651 98.9,651.5 101.5,651.4 105,650.7 110.5,648.7 113.8,647 118.5,643.7 121.3,641.1 123.6,638.3 125.6,635.2 127.4,631.9 129.5,626.7 131.8,619.3 136.6,599.9 138,595.4 139.7,591.4 143.3,584 146.3,578.9 149.1,575.8 152.9,572.7 159.5,568.4 165,565.6 170.2,563.6 175.6,562.3 179.6,561.9 183.7,561.8 189.8,561.9 196,562.3 200,562.3 201.8,562.1 208.9,560.7 210.6,560.5 215.3,560.5 218.4,560.9 221.1,561.8 223.7,563.1 228.9,566.7 234.9,571.9 239.9,575.6 259.3,587.8 269.6,592.9 273.1,594.9 277.7,597.8 282,601.2 287,606.2 292.2,612.8 296.9,619.8 304.9,633.7 310.5,643 312.8,645.9 315.6,648.4 320.3,651.7 325.4,654.4 334.4,658 341.5,660.4 349.5,663.9 352.4,665.6 354.9,667.4 358.3,670.6 359.9,672.8 361.2,675.1 362.1,677.4 362.3,678.6 362.3,679.7 362,682 360.7,685.4 358.4,689 354.2,693.4 347.8,698.3 342.4,702.1 341.4,703.5 341,706.4 342.4,707.3 343.2,707.5 344.2,707.3 345.4,706.8 350.9,703.7 359.7,699.9 368.7,695.7 373.8,692.8 378.4,689.4 382.7,685.6 386.5,681.5 391.1,675.9 395,670.2 397.9,665.2 400.7,659.3 402.3,654.7 401.3,653.5 400.8,653.2 400,653.5 391.9,661.1 386.8,665 383.8,666.6 381.8,667.4 379.8,667.9 378.2,667.9 376,667.5 374.2,666.8 364.2,660.3 358.2,657.2 348.9,653.4 333.1,647.6 328,645.1 325.3,643.3 322.7,641.2 320.4,639 318.2,636.4 314.3,630.6 309,620 305,613.7 298.9,603 295.9,599 292.8,595.4 286,589 295.9,587 300.5,586.4 303.5,586.3 307.6,586.5 310.1,587 313.9,588.4 316.5,589.7 319,591.4 321.6,593.7 324.1,596.7 331.8,606.9 333.9,609.1 335.8,610.4 340,612.2 345.2,613.5 347.6,614.4 349.4,615.5 350.9,616.7 352.1,618.2 352.5,619.1 352.7,621.1 353.4,630.8 354,632.8 354.9,634.4 356.7,636.5 359.6,638.4 361.8,639.3 362.8,639.5 365.3,639.3 366.8,638.7 367.4,638.3 367.9,637.7 368.6,636.2 369,634.4 369.2,632.5 368.8,629.4 368.9,627.4 369.7,625.8 371.5,623.6 372.2,622 372.6,620.2 372.7,618.4 372.5,616.4 370.4,610.6 369.6,607.4 369.5,605.4 369.9,603.8 372.7,600.7 374.5,597.6 374.7,596.2 374,594.8 373.1,594.1 372.2,593.8 370.9,593.9 368.9,594.7 367.3,595.7 365.8,597.1 360.6,602.4 358.9,603.5 356.9,604.5 354.8,605.1 352.5,605.4 349.9,605.3 347.3,604.9 344,603.5 340,600.7 337.9,598.6 329.9,589.2 327.8,587 325.4,585 320.2,581.4 331.6,577.9 343.1,574.2 359.8,568 364.5,566.8 368.9,566.2 373.8,566.6 375.7,566.5 376.6,566 378,564.7 374.3,562.3 372.3,561.5 369.8,560.9 364.3,560.3 361.4,560.4 356.7,560.9 350.8,562 342.1,564.2 314.1,572.6 306.5,574.6 298.9,576.4 289.7,578.2 285.2,578.7 279,578.9 275,578.6 269.3,577.8 264.1,576.3 259.2,573.9 254.7,570.7 249.6,566.1 247.4,563.5 246.6,562.2 245,558.6 244.4,556.2 244.1,553.9 244.3,550.4 245.4,546.7 246.9,543.9 253.4,533.5 254.5,531 256.3,524.5 257.4,516.8 257.8,515.4 258.8,513.4 260.9,510.8 262.7,509.2 263.9,508.6 280.7,501.1 292.1,496.5 305.8,491.6 310.4,490.2 317.3,488.5 330.3,486.2 334.4,485.7 337.9,485.6 341.1,485.7 344,486.1 346.5,486.7 348.7,487.6 350.6,488.7 352.3,490.2 353.6,491.9 355.3,494.8 357.6,500.8 359.4,504.6 361.3,506.8 363.5,508.5 366.1,509.5 368.2,509.7 372.3,509.6 375.4,508.7 377.4,508.5 381.9,510 383.6,509.9 385,509.2 385.6,507.8 385.8,504.9 385.5,502.7 384.4,498.9 382.9,495 380.9,491.1 375.8,482.6 374.9,479.6 373.3,470.6 372.8,469.7 371.5,468.4 369.1,466.9 367.3,466.3 364.1,466 361.2,466.4 358.4,467.2 356.8,468.1 356.1,468.8 353.7,472.6 351,475.7 349.4,476.8 348.5,477.3 346.9,477.7 345,477.9 336.3,477.7 328.7,478.2 319.1,479 309.7,480.3 316.5,473.5 322.8,465.8 327.8,460.3 330.3,457.8 334.6,454.7 337.6,452.9 340.8,451.4 344.3,450.1 347.9,449.1 351.5,448.4 355.1,448 360.5,448.1 363.3,448.7 366.4,450.1 368.2,451.4 369.9,453.3 372.8,458.2 375.2,463.3 384.1,487 385.7,490.4 387,492.3 389.8,494.2 391.2,493.1 391.8,492.3 392.1,491.5 392.5,489.4 392.6,485.6 392.2,481.4 391.4,476.7 389.7,469.4 386.6,459.2 384.7,454.1 382.5,449 377.7,439.1 372.6,429.9 368.2,422.5 366.2,419.5 364.6,417.8 361.6,416 360.2,416.3 359.7,416.9 359.6,417.8 359.8,419.1 362.1,424.8 363.6,429.4 364.2,432.5 364.2,434.9 363.8,436.8 363.1,438.5 362,439.7 359.6,440.7 355.7,441.5 346.2,442 339.7,443.1 333.6,444.7 329.8,446.4 326.2,448.6 321.1,452.6 317.5,456.2 310.4,464.3 303.5,471.6 299.8,475 293.8,479.8 287.6,484.1 281.5,487.5 275.4,490.2 268.2,492.6 264.8,493.3 260.4,493.8 257.6,493.7 256.3,493.4 254.3,492.6 246.3,487.1 241.3,483.3 218.2,464.8Z" fill="#91ccd9" stroke="#2585b2" stroke-width="1.4" stroke-linejoin="round"/>
<ellipse cx="217.3" cy="520.3" rx="18.3" ry="14.4" fill="#3f98bd" transform="rotate(-10 217.3 520.3)"/>
<circle cx="215" cy="518.6" r="4.4" fill="#4472c0"/>
<circle cx="300.5" cy="422.8" r="0.8" fill="#8cc6dc"/>
<g transform="translate(180.5 476.8) rotate(-38.5)"><path d="M-11,7.3 L-11,-7.3 C-11,-14.43 -5.5,-14.43 -5.5,-7.3 L-5.5,7.3ZM0,7.3 L0,-7.3 C0,-14.43 5.5,-14.43 5.5,-7.3 L5.5,7.3ZM11,7.3 L11,-7.3 C11,-14.43 16.5,-14.43 16.5,-7.3 L16.5,7.3ZM-16.5,-7.3 L-16.5,7.3 C-16.5,14.43 -11,14.43 -11,7.3 L-11,-7.3ZM-5.5,-7.3 L-5.5,7.3 C-5.5,14.43 0,14.43 0,7.3 L0,-7.3ZM5.5,-7.3 L5.5,7.3 C5.5,14.43 11,14.43 11,7.3 L11,-7.3Z" fill="#fff" fill-opacity="0.9"/><path d="M-16.5,0.5 L16.5,0.5" stroke="#4aa6d6" stroke-width="1" fill="none"/><path d="M-11,-7.3 C-11,-14.43 -5.5,-14.43 -5.5,-7.3M0,-7.3 C0,-14.43 5.5,-14.43 5.5,-7.3M11,-7.3 C11,-14.43 16.5,-14.43 16.5,-7.3M-16.5,7.3 C-16.5,14.43 -11,14.43 -11,7.3M-5.5,7.3 C-5.5,14.43 0,14.43 0,7.3M5.5,7.3 C5.5,14.43 11,14.43 11,7.3" fill="none" stroke="#1c6a1c" stroke-width="1.2" stroke-linecap="round"/><rect x="-17.85" y="-9.3" width="2.7" height="18.6" rx="1.35" fill="#2e9a2e" stroke="#1c6a1c" stroke-width="0.5"/><rect x="-12.35" y="-9.3" width="2.7" height="18.6" rx="1.35" fill="#2e9a2e" stroke="#1c6a1c" stroke-width="0.5"/><rect x="-6.85" y="-9.3" width="2.7" height="18.6" rx="1.35" fill="#2e9a2e" stroke="#1c6a1c" stroke-width="0.5"/><rect x="-1.35" y="-9.3" width="2.7" height="18.6" rx="1.35" fill="#2e9a2e" stroke="#1c6a1c" stroke-width="0.5"/><rect x="4.15" y="-9.3" width="2.7" height="18.6" rx="1.35" fill="#2e9a2e" stroke="#1c6a1c" stroke-width="0.5"/><rect x="9.65" y="-9.3" width="2.7" height="18.6" rx="1.35" fill="#2e9a2e" stroke="#1c6a1c" stroke-width="0.5"/><rect x="15.15" y="-9.3" width="2.7" height="18.6" rx="1.35" fill="#2e9a2e" stroke="#1c6a1c" stroke-width="0.5"/></g><path d="M163.6,481.2 163.37,481.01 163.14,480.82 162.91,480.63 162.69,480.44 162.46,480.25 162.22,480.06 161.97,479.88 161.7,479.7 161.36,479.5 161,479.33 160.62,479.16 160.23,478.99 159.84,478.81 159.45,478.63 159.07,478.43 158.7,478.2 158.3,477.93 157.89,477.63 157.47,477.32 157.06,477 156.68,476.66 156.33,476.31 156.03,475.96 155.8,475.6 155.65,475.3 155.52,474.99 155.42,474.66 155.34,474.33 155.3,474.01 155.29,473.69 155.32,473.38 155.4,473.1 155.54,472.81 155.75,472.54 156.01,472.28 156.32,472.04 156.65,471.8 157,471.56 157.35,471.33 157.7,471.1 158.14,470.82 158.63,470.57 159.15,470.32 159.69,470.07 160.23,469.83 160.75,469.57 161.25,469.3 161.7,469 162.07,468.72 162.41,468.42 162.74,468.11 163.06,467.79 163.37,467.46 163.67,467.14 163.98,466.82 164.3,466.5" fill="none" stroke="#1c6a1c" stroke-width="1.2" stroke-linecap="round" stroke-linejoin="round"/><path d="M197.8,472.8 197.97,473.02 198.13,473.24 198.29,473.46 198.46,473.68 198.62,473.9 198.8,474.12 198.99,474.36 199.2,474.6 199.53,474.95 199.91,475.32 200.33,475.7 200.76,476.08 201.19,476.48 201.6,476.88 201.97,477.29 202.3,477.7 202.57,478.06 202.84,478.43 203.1,478.81 203.35,479.19 203.55,479.57 203.71,479.95 203.79,480.33 203.8,480.7 203.7,481.1 203.49,481.5 203.2,481.9 202.86,482.3 202.47,482.69 202.07,483.07 201.67,483.44 201.3,483.8 200.93,484.14 200.52,484.46 200.09,484.77 199.66,485.08 199.24,485.37 198.85,485.68 198.5,485.98 198.2,486.3 198.02,486.54 197.87,486.79 197.74,487.04 197.63,487.29 197.53,487.55 197.42,487.8 197.32,488.05 197.2,488.3" fill="none" stroke="#1c6a1c" stroke-width="1.2" stroke-linecap="round" stroke-linejoin="round"/>
<g transform="translate(235.6 473.8) rotate(30)"><path d="M-11.6,7.8 L-11.6,-7.8 C-11.6,-15.2 -5.8,-15.2 -5.8,-7.8 L-5.8,7.8ZM0,7.8 L0,-7.8 C0,-15.2 5.8,-15.2 5.8,-7.8 L5.8,7.8ZM11.6,7.8 L11.6,-7.8 C11.6,-15.2 17.4,-15.2 17.4,-7.8 L17.4,7.8ZM-17.4,-7.8 L-17.4,7.8 C-17.4,15.2 -11.6,15.2 -11.6,7.8 L-11.6,-7.8ZM-5.8,-7.8 L-5.8,7.8 C-5.8,15.2 0,15.2 0,7.8 L0,-7.8ZM5.8,-7.8 L5.8,7.8 C5.8,15.2 11.6,15.2 11.6,7.8 L11.6,-7.8Z" fill="#fff" fill-opacity="0.45"/><path d="M-17.4,0.8 L17.4,0.8" stroke="#5cc3cf" stroke-width="1" fill="none"/><path d="M-11.6,-7.8 C-11.6,-15.2 -5.8,-15.2 -5.8,-7.8M0,-7.8 C0,-15.2 5.8,-15.2 5.8,-7.8M11.6,-7.8 C11.6,-15.2 17.4,-15.2 17.4,-7.8M-17.4,7.8 C-17.4,15.2 -11.6,15.2 -11.6,7.8M-5.8,7.8 C-5.8,15.2 0,15.2 0,7.8M5.8,7.8 C5.8,15.2 11.6,15.2 11.6,7.8" fill="none" stroke="#1b3c98" stroke-width="1.25" stroke-linecap="round"/><rect x="-18.8" y="-9.8" width="2.8" height="19.6" rx="1.4" fill="#2f6fcd" stroke="#1b3c98" stroke-width="0.5"/><rect x="-13" y="-9.8" width="2.8" height="19.6" rx="1.4" fill="#2f6fcd" stroke="#1b3c98" stroke-width="0.5"/><rect x="-7.2" y="-9.8" width="2.8" height="19.6" rx="1.4" fill="#2f6fcd" stroke="#1b3c98" stroke-width="0.5"/><rect x="-1.4" y="-9.8" width="2.8" height="19.6" rx="1.4" fill="#2f6fcd" stroke="#1b3c98" stroke-width="0.5"/><rect x="4.4" y="-9.8" width="2.8" height="19.6" rx="1.4" fill="#2f6fcd" stroke="#1b3c98" stroke-width="0.5"/><rect x="10.2" y="-9.8" width="2.8" height="19.6" rx="1.4" fill="#2f6fcd" stroke="#1b3c98" stroke-width="0.5"/><rect x="16" y="-9.8" width="2.8" height="19.6" rx="1.4" fill="#2f6fcd" stroke="#1b3c98" stroke-width="0.5"/></g><path d="M224.5,458.5 224.71,457.94 224.92,457.37 225.14,456.81 225.36,456.24 225.57,455.68 225.77,455.12 225.95,454.56 226.1,454 226.2,453.47 226.25,452.93 226.28,452.39 226.3,451.85 226.33,451.33 226.39,450.82 226.51,450.34 226.7,449.9 226.95,449.47 227.26,449.03 227.61,448.6 227.99,448.2 228.4,447.84 228.83,447.56 229.26,447.37 229.7,447.3 230.3,447.44 230.95,447.83 231.63,448.4 232.33,449.09 233.05,449.84 233.77,450.56 234.49,451.21 235.2,451.7 235.81,452.01 236.41,452.28 237.03,452.51 237.64,452.71 238.26,452.91 238.87,453.09 239.49,453.29 240.1,453.5" fill="none" stroke="#1b3c98" stroke-width="1.25" stroke-linecap="round" stroke-linejoin="round"/><path d="M247,488.5 246.89,488.81 246.79,489.11 246.69,489.4 246.59,489.7 246.48,490 246.37,490.32 246.24,490.65 246.1,491 245.87,491.57 245.63,492.21 245.37,492.9 245.09,493.6 244.79,494.3 244.46,494.96 244.1,495.57 243.7,496.1 243.32,496.52 242.92,496.94 242.48,497.33 242.03,497.69 241.56,498 241.08,498.25 240.59,498.42 240.1,498.5 239.53,498.45 238.93,498.25 238.31,497.94 237.67,497.55 237.04,497.14 236.41,496.73 235.79,496.37 235.2,496.1 234.72,495.93 234.25,495.79 233.79,495.66 233.33,495.54 232.87,495.43 232.42,495.33 231.96,495.22 231.5,495.1" fill="none" stroke="#1b3c98" stroke-width="1.25" stroke-linecap="round" stroke-linejoin="round"/>
<g transform="translate(436.15 802.7) rotate(17.2)"><path d="M-12.2,-7.6 C-12.2,-15.81 -6.1,-15.81 -6.1,-7.6M0,-7.6 C0,-15.81 6.1,-15.81 6.1,-7.6M12.2,-7.6 C12.2,-15.81 18.3,-15.81 18.3,-7.6M-18.3,7.6 C-18.3,15.81 -12.2,15.81 -12.2,7.6M-6.1,7.6 C-6.1,15.81 0,15.81 0,7.6M6.1,7.6 C6.1,15.81 12.2,15.81 12.2,7.6" fill="none" stroke="#1b3c98" stroke-width="1.1" stroke-linecap="round"/><rect x="-19.7" y="-9.6" width="2.8" height="19.2" rx="1.4" fill="#2f6fcd" stroke="#1b3c98" stroke-width="0.5"/><rect x="-13.6" y="-9.6" width="2.8" height="19.2" rx="1.4" fill="#2f6fcd" stroke="#1b3c98" stroke-width="0.5"/><rect x="-7.5" y="-9.6" width="2.8" height="19.2" rx="1.4" fill="#2f6fcd" stroke="#1b3c98" stroke-width="0.5"/><rect x="-1.4" y="-9.6" width="2.8" height="19.2" rx="1.4" fill="#2f6fcd" stroke="#1b3c98" stroke-width="0.5"/><rect x="4.7" y="-9.6" width="2.8" height="19.2" rx="1.4" fill="#2f6fcd" stroke="#1b3c98" stroke-width="0.5"/><rect x="10.8" y="-9.6" width="2.8" height="19.2" rx="1.4" fill="#2f6fcd" stroke="#1b3c98" stroke-width="0.5"/><rect x="16.9" y="-9.6" width="2.8" height="19.2" rx="1.4" fill="#2f6fcd" stroke="#1b3c98" stroke-width="0.5"/></g><path d="M421.6,789.5 421.6,789.06 421.58,788.63 421.57,788.19 421.56,787.75 421.55,787.32 421.55,786.88 421.57,786.44 421.6,786 421.65,785.54 421.7,785.06 421.77,784.59 421.85,784.11 421.94,783.64 422.05,783.18 422.17,782.73 422.3,782.3 422.43,781.91 422.56,781.52 422.71,781.14 422.86,780.76 423.04,780.4 423.23,780.07 423.45,779.77 423.7,779.5 423.98,779.27 424.29,779.06 424.62,778.88 424.98,778.72 425.35,778.59 425.73,778.49 426.11,778.43 426.5,778.4 426.97,778.44 427.47,778.56 427.98,778.75 428.5,778.97 429.02,779.21 429.55,779.44 430.08,779.65 430.6,779.8 431.1,779.9 431.6,779.98 432.1,780.05 432.6,780.1 433.1,780.15 433.6,780.19 434.1,780.24 434.6,780.3" fill="none" stroke="#1b3c98" stroke-width="1.1" stroke-linecap="round" stroke-linejoin="round"/><path d="M451.2,815.5 451.13,815.87 451.06,816.25 450.99,816.62 450.91,817 450.84,817.37 450.78,817.75 450.73,818.12 450.7,818.5 450.68,818.87 450.67,819.25 450.67,819.62 450.67,819.99 450.69,820.36 450.72,820.74 450.75,821.12 450.8,821.5 450.89,821.92 451.02,822.36 451.17,822.8 451.33,823.24 451.48,823.68 451.58,824.11 451.63,824.51 451.6,824.9 451.5,825.25 451.35,825.62 451.16,825.98 450.93,826.32 450.67,826.64 450.39,826.91 450.1,827.14 449.8,827.3 449.48,827.39 449.14,827.42 448.78,827.4 448.39,827.35 448,827.25 447.6,827.14 447.2,827.02 446.8,826.9 446.31,826.72 445.82,826.49 445.33,826.22 444.82,825.93 444.31,825.63 443.79,825.35 443.25,825.1 442.7,824.9 442.09,824.73 441.46,824.6 440.81,824.5 440.15,824.41 439.49,824.34 438.82,824.27 438.16,824.19 437.5,824.1" fill="none" stroke="#1b3c98" stroke-width="1.1" stroke-linecap="round" stroke-linejoin="round"/>
<g transform="translate(427.3 706.2) rotate(-18) scale(1 1)"><path d="M0,-16.4 C6.5,-16.6 12.9,-12.6 13.1,-5.6 C13.3,-0.8 10.2,2.6 9.3,6.4 C8.7,9 9.6,12.2 9.2,14 C8.6,16 3,16.4 0,16.4 C-3,16.4 -8.6,16 -9.2,14 C-9.6,12.2 -8.7,9 -9.3,6.4 C-10.2,2.6 -13.3,-0.8 -13.1,-5.6 C-12.9,-12.6 -6.5,-16.6 0,-16.4Z" fill="#b95e63"/><path d="M-7.5,-14.3 C-2.5,-16.9 2.5,-16.9 7.5,-14.3 C3,-13.2 -3,-13.2 -7.5,-14.3Z" fill="#9a3843"/><path d="M-0.6,-14 C-2.8,-5 -2.6,5 -1.6,15.5 M0.6,-14 C2.8,-5 2.6,5 1.6,15.5 M-7,-12.5 C-9,-5 -7,5 -6,14.5 M7,-12.5 C9,-5 7,5 6,14.5" fill="none" stroke="#a5474f" stroke-width="0.8" opacity="0.4"/><path d="M-3.2,16.2 L0,12.2 L3.2,16.2Z" fill="#cf8a80" opacity="0.8"/></g>
<path d="M392,678.4 398.1,682 398.1,689.2 392,692.8 385.9,689.2 385.9,682Z" fill="#c4352c" stroke="#c4352c" stroke-width="2.4" stroke-linejoin="round"/>
<rect x="-8.2" y="-1.15" width="16.4" height="2.3" fill="#111" transform="translate(156.6 457.7) rotate(42)"/>
<rect x="-8.2" y="-1.15" width="16.4" height="2.3" fill="#111" transform="translate(156.6 457.7) rotate(-46)"/>
<rect x="-4.8" y="-1.35" width="9.6" height="2.7" fill="#111" transform="translate(255.3 454.1) rotate(38)"/>
<rect x="-4.6" y="-1.35" width="9.2" height="2.7" fill="#111" transform="translate(415.8 685.4) rotate(-22)"/>
<rect x="-4.6" y="-1.5" width="9.2" height="3" fill="#111" transform="translate(422 825.2) rotate(8)"/>
<rect x="630.4" y="311.4" width="324.5" height="282.6" rx="22.5" fill="#ecf3fc" stroke="#8fa7d8" stroke-width="4.4"/>
<circle cx="450.5" cy="69" r="9.5" fill="#593d8b"/>
<circle cx="546.5" cy="45" r="8.9" fill="#593d8b"/>
<circle cx="656.5" cy="64.3" r="9.5" fill="#593d8b"/>
<circle cx="765.7" cy="125.3" r="9.3" fill="#593d8b"/>
<circle cx="174.5" cy="427" r="7.2" fill="#593d8b"/>
<circle cx="659.5" cy="338.7" r="7.8" fill="#593d8b"/>
<path d="M659,377.2 665.1,380.85 665.1,388.15 659,391.8 652.9,388.15 652.9,380.85Z" fill="#c4352c" stroke="#c4352c" stroke-width="2.4" stroke-linejoin="round"/>
<g transform="translate(659 436.3) rotate(0) scale(1.04 0.96)"><path d="M0,-16.4 C6.5,-16.6 12.9,-12.6 13.1,-5.6 C13.3,-0.8 10.2,2.6 9.3,6.4 C8.7,9 9.6,12.2 9.2,14 C8.6,16 3,16.4 0,16.4 C-3,16.4 -8.6,16 -9.2,14 C-9.6,12.2 -8.7,9 -9.3,6.4 C-10.2,2.6 -13.3,-0.8 -13.1,-5.6 C-12.9,-12.6 -6.5,-16.6 0,-16.4Z" fill="#b95e63"/><path d="M-7.5,-14.3 C-2.5,-16.9 2.5,-16.9 7.5,-14.3 C3,-13.2 -3,-13.2 -7.5,-14.3Z" fill="#9a3843"/><path d="M-0.6,-14 C-2.8,-5 -2.6,5 -1.6,15.5 M0.6,-14 C2.8,-5 2.6,5 1.6,15.5 M-7,-12.5 C-9,-5 -7,5 -6,14.5 M7,-12.5 C9,-5 7,5 6,14.5" fill="none" stroke="#a5474f" stroke-width="0.8" opacity="0.4"/><path d="M-3.2,16.2 L0,12.2 L3.2,16.2Z" fill="#cf8a80" opacity="0.8"/></g>
<g transform="translate(661.3 499.4) rotate(0)"><path d="M-10.8,-7.75 C-10.8,-14.61 -5.4,-14.61 -5.4,-7.75M0,-7.75 C0,-14.61 5.4,-14.61 5.4,-7.75M10.8,-7.75 C10.8,-14.61 16.2,-14.61 16.2,-7.75M-16.2,7.75 C-16.2,14.61 -10.8,14.61 -10.8,7.75M-5.4,7.75 C-5.4,14.61 0,14.61 0,7.75M5.4,7.75 C5.4,14.61 10.8,14.61 10.8,7.75M-16.2,-8.75 C-16.7,-12.95 -17.2,-15.75 -14.2,-15.75 C-11.2,-15.75 -9.2,-14.15 -5.2,-15.35M16.2,8.75 C16.7,12.15 18.7,15.35 15.7,15.75 C12.2,16.15 10.2,13.35 5.2,14.15" fill="none" stroke="#1b3c98" stroke-width="1.15" stroke-linecap="round"/><rect x="-17.5" y="-9.75" width="2.6" height="19.5" rx="1.3" fill="#2f6fcd" stroke="#1b3c98" stroke-width="0.5"/><rect x="-12.1" y="-9.75" width="2.6" height="19.5" rx="1.3" fill="#2f6fcd" stroke="#1b3c98" stroke-width="0.5"/><rect x="-6.7" y="-9.75" width="2.6" height="19.5" rx="1.3" fill="#2f6fcd" stroke="#1b3c98" stroke-width="0.5"/><rect x="-1.3" y="-9.75" width="2.6" height="19.5" rx="1.3" fill="#2f6fcd" stroke="#1b3c98" stroke-width="0.5"/><rect x="4.1" y="-9.75" width="2.6" height="19.5" rx="1.3" fill="#2f6fcd" stroke="#1b3c98" stroke-width="0.5"/><rect x="9.5" y="-9.75" width="2.6" height="19.5" rx="1.3" fill="#2f6fcd" stroke="#1b3c98" stroke-width="0.5"/><rect x="14.9" y="-9.75" width="2.6" height="19.5" rx="1.3" fill="#2f6fcd" stroke="#1b3c98" stroke-width="0.5"/></g>
<g transform="translate(660 563.7) rotate(0)"><path d="M-9.9,-5.9 C-9.9,-12.49 -4.95,-12.49 -4.95,-5.9M0,-5.9 C0,-12.49 4.95,-12.49 4.95,-5.9M9.9,-5.9 C9.9,-12.49 14.85,-12.49 14.85,-5.9M-14.85,5.9 C-14.85,12.49 -9.9,12.49 -9.9,5.9M-4.95,5.9 C-4.95,12.49 0,12.49 0,5.9M4.95,5.9 C4.95,12.49 9.9,12.49 9.9,5.9M-14.85,-6.9 C-15.35,-11.1 -15.85,-13.9 -12.85,-13.9 C-9.85,-13.9 -7.85,-12.3 -3.85,-13.5M14.85,6.9 C15.35,10.3 17.35,13.5 14.35,13.9 C10.85,14.3 8.85,11.5 3.85,12.3" fill="none" stroke="#1c6a1c" stroke-width="1.15" stroke-linecap="round"/><rect x="-16.1" y="-7.9" width="2.5" height="15.8" rx="1.25" fill="#2e9a2e" stroke="#1c6a1c" stroke-width="0.5"/><rect x="-11.15" y="-7.9" width="2.5" height="15.8" rx="1.25" fill="#2e9a2e" stroke="#1c6a1c" stroke-width="0.5"/><rect x="-6.2" y="-7.9" width="2.5" height="15.8" rx="1.25" fill="#2e9a2e" stroke="#1c6a1c" stroke-width="0.5"/><rect x="-1.25" y="-7.9" width="2.5" height="15.8" rx="1.25" fill="#2e9a2e" stroke="#1c6a1c" stroke-width="0.5"/><rect x="3.7" y="-7.9" width="2.5" height="15.8" rx="1.25" fill="#2e9a2e" stroke="#1c6a1c" stroke-width="0.5"/><rect x="8.65" y="-7.9" width="2.5" height="15.8" rx="1.25" fill="#2e9a2e" stroke="#1c6a1c" stroke-width="0.5"/><rect x="13.6" y="-7.9" width="2.5" height="15.8" rx="1.25" fill="#2e9a2e" stroke="#1c6a1c" stroke-width="0.5"/></g>
<g font-family="'Liberation Sans', Arial, sans-serif" fill="#2b2b2b" filter="url(#gAA)">
<text transform="scale(0.8948 1)" x="152.06 179.43 200.49 221.55 242.01 262.62 275.7 297.1 306.64" y="627.8" font-size="36.4">Gabaergic</text>
<text transform="scale(0.9035 1)" x="149.93 160.56 182.37 193.62 214.23 227.13 247.75 268.35 289.36 302.62 324" y="666.5" font-size="36.4">Interneuron</text>
<text transform="scale(0.8969 1)" x="582.38 605.8 626.4 639.66 661.82 673.85 695.23 716.45 725.51 746.12 766.73 779.81 801.2 810.75" y="684" font-size="36.4">Serotoninergic</text>
<text transform="scale(0.9130 1)" x="571.73 598.43 619.03 640.05 653.31 674.69" y="722.9" font-size="36.4">Neuron</text>
<text transform="scale(0.9036 1)" x="763.06 786.48 807.09 820.34 842.5 854.53 875.92 897.14 906.2" y="354.1" font-size="36.4">Serotonin</text>
<text transform="scale(0.8934 1)" x="771.64 799.06 823.36 847.66" y="397.9" font-size="36.4">GABA</text>
<text transform="scale(0.8955 1)" x="769.83 797.25 821.55 845.84 870.08 880.14 904.38 914.54 927.02 948.12 967.17 987.95 1009.94 1021.96 1043.34" y="451.3" font-size="36.4">GABA A receptor</text>
<text transform="scale(0.8983 1)" x="768.68 788.7 800.46 827.45" y="512" font-size="36.4">5-HT</text>
<text transform="scale(0.9561 1)" x="798.79 810.63" y="516.2" font-size="20.4">1A</text>
<text transform="scale(0.8999 1)" x="884.14 896.62 917.72 936.77 957.55 979.54 991.57 1012.95" y="512" font-size="36.4">receptor</text>
<text transform="scale(0.8983 1)" x="768.68 788.7 800.46 827.45" y="576.4" font-size="36.4">5-HT</text>
<text transform="scale(0.9887 1)" x="771.59 783.43" y="580.6" font-size="20.4">2A</text>
<text transform="scale(0.8999 1)" x="884.14 896.62 917.72 936.77 957.55 979.54 991.57 1012.95" y="576.4" font-size="36.4">receptor</text>
</g>
</svg>
</body></html>
